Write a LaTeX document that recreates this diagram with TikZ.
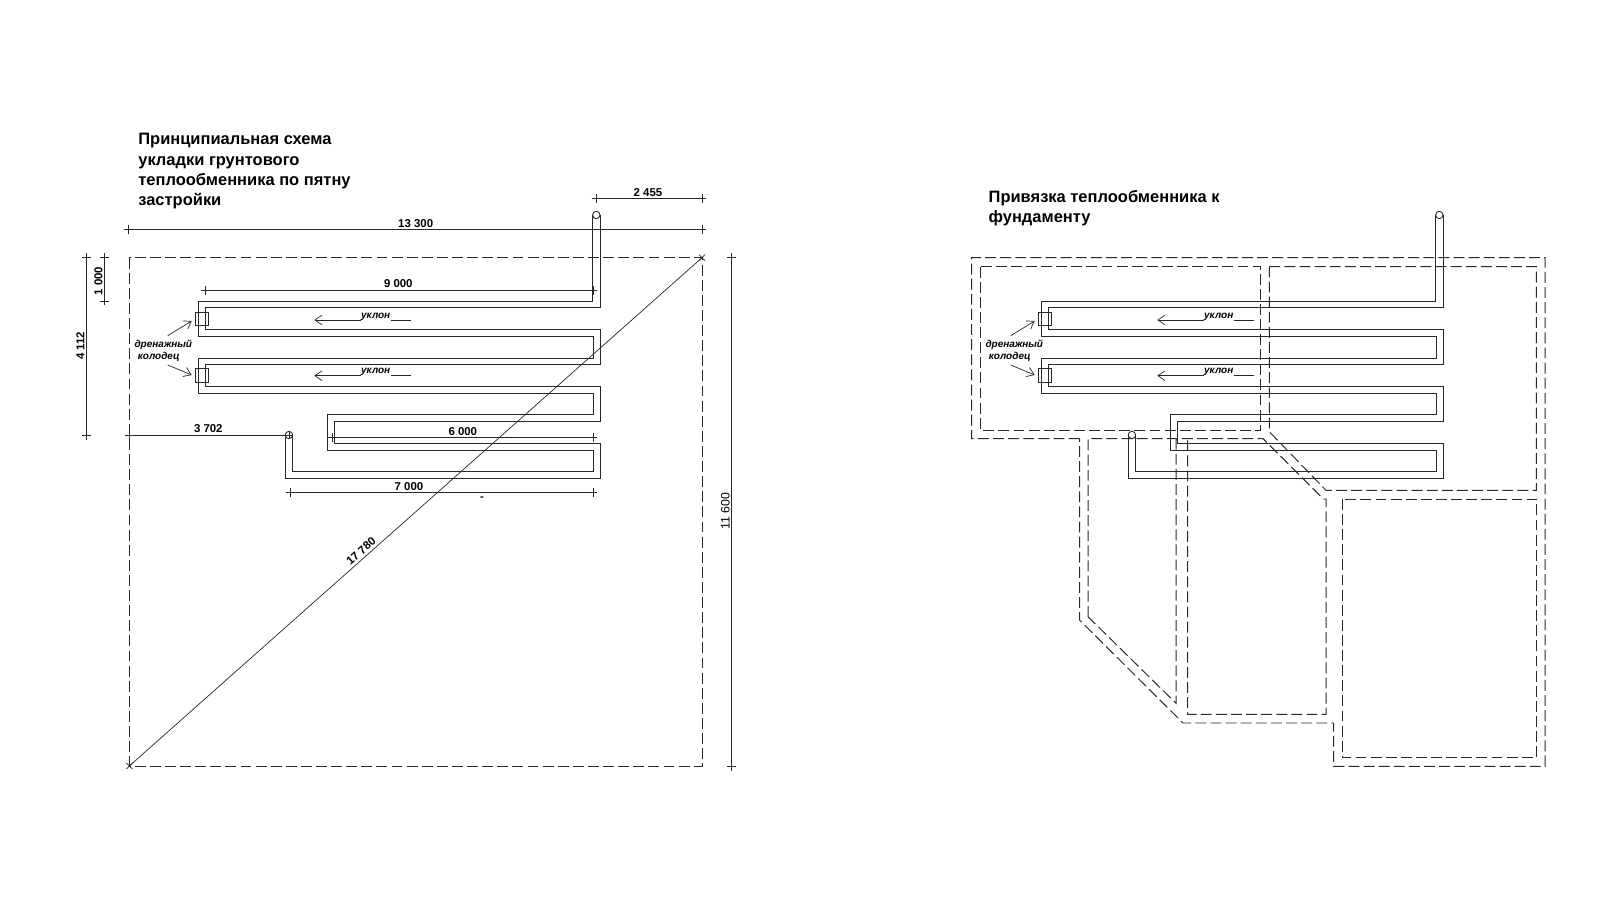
\documentclass[tikz,border=0pt]{standalone}
\usepackage{fontspec}
\setmainfont{Liberation Sans}
\usetikzlibrary{shapes.misc, arrows.meta}
\definecolor{inkdark}{RGB}{40, 40, 40}
\tikzset{
  titletext/.style={align=left, anchor=north west, inner sep=0pt, font=\fontsize{9.38}{11.6}\selectfont\bfseries, text=black},
  dimtext/.style={inner sep=0pt, font=\fontsize{6.5}{7}\selectfont\bfseries, text=black},
  welltext/.style={inner sep=0pt, font=\fontsize{5.7}{7}\selectfont\bfseries\itshape, text=black},
  endtick/.style={draw=inkdark, cross out, rotate=45, minimum size=0.125cm, inner sep=0pt, outer sep=0pt, line width=0.35pt},
  cornertick/.style={draw=inkdark, cross out, minimum size=0.12cm, inner sep=0pt, outer sep=0pt, line width=0.4pt},
  dimline/.style={draw=inkdark, line width=0.55pt},
  thinline/.style={draw=inkdark, line width=0.4pt},
  pipeline/.style={draw=inkdark, line width=0.52pt},
  wallline/.style={draw=inkdark, line width=0.55pt, dash pattern=on 6.2pt off 2.4pt},
  hole/.style={draw=inkdark, circle, minimum size=0.148cm, inner sep=0pt, outer sep=0pt, line width=0.5pt},
  wellbox/.style={draw=inkdark, rectangle, minimum size=0.274cm, inner sep=0pt, outer sep=0pt, line width=0.5pt},
  slopearrow/.style={draw=inkdark, line width=0.4pt, -{Straight Barb[length=4pt,width=5.5pt]}}
}
% heat exchanger coil: #1 prefix, #2 shift of the well label
\newcommand{\coilpipe}[2]{
  \node[hole] (#1holeA) at (596.3,215) {};
  \node[hole] (#1holeB) at (288.9,435) {};
  \draw[pipeline] (#1holeA.west) |- (198.3,301) -- (198.3,336.3) -- (593,336.3) -- (593,358) -- (198.3,358)
    -- (198.3,393.3) -- (593,393.3) -- (593,414.7) -- (327.5,414.7) -- (327.5,450) -- (593,450) -- (593,471.7) -| (#1holeB.east);
  \draw[pipeline] (#1holeA.east) |- (205,307.7) -- (205,329.3) -- (600,329.3) -- (600,364.7) -- (205,364.7)
    -- (205,386.3) -- (600,386.3) -- (600,421.7) -- (334,421.7) -- (334,443.3) -- (600,443.3) -- (600,478.3) -| (#1holeB.west);
  % wells
  \node[wellbox] (#1wellA) at (201.8,318.8) {};
  \node[wellbox] (#1wellB) at (201.8,375.3) {};
  \node[welltext] (#1drainA) at (163.3+#2,344.7) {дренажный};
  \node[welltext] (#1drainB) at (158.7+#2,357.3) {колодец};
  \coordinate (#1tailA) at (167.7,335.7);
  \coordinate (#1tipA) at (191.7,321);
  \coordinate (#1tailB) at (167.7,365);
  \coordinate (#1tipB) at (191.7,375);
  \draw[slopearrow] (#1tailA) -- (#1tipA);
  \draw[slopearrow] (#1tailB) -- (#1tipB);
  % slope marks
  \node[welltext] (#1slopeA) at (375.7,316.5) {уклон};
  \node[welltext] (#1slopeB) at (375.7,371.5) {уклон};
  \coordinate (#1headA) at (314.3,320);
  \coordinate (#1headB) at (314.3,375.7);
  \draw[slopearrow] (#1slopeA.west |- #1headA) -- (#1headA);
  \draw[slopearrow] (#1slopeB.west |- #1headB) -- (#1headB);
  \draw[thinline] (390.7,320) -- (410.7,320);
  \draw[thinline] (390.7,375.7) -- (410.7,375.7);
}
\begin{document}
\begin{tikzpicture}[x=0.02cm, y=-0.02cm]
  \useasboundingbox (0,0) rectangle (1618,898);

  % Left plan
  \node[titletext] (titleleft) at (138,133) {Принципиальная схема\\укладки грунтового\\теплообменника по пятну\\застройки};
  \draw[wallline] (129.3,257.7) rectangle (702,766);
  \coilpipe{l}{0}

  % Horizontal dimensions
  \node[endtick] (dAa) at (596,198.3) {};
  \node[endtick] (dAb) at (702,198.3) {};
  \draw[dimline] (dAa.center) -- (dAb.center);
  \node[dimtext] (dAt) at (648,192.5) {2 455};
  \node[endtick] (dBa) at (128.3,229.8) {};
  \node[endtick] (dBb) at (702,229.8) {};
  \draw[dimline] (dBa.center) -- (dBb.center);
  \node[dimtext] (dBt) at (415.7,223.5) {13 300};
  \node[endtick] (dCa) at (205,290.7) {};
  \node[endtick] (dCb) at (593,290.7) {};
  \draw[dimline] (dCa.center) -- (dCb.center);
  \node[dimtext] (dCt) at (398.3,284) {9 000};
  \node[endtick] (dDa) at (129.3,435) {};
  \node[endtick] (dDb) at (288.9,435) {};
  \draw[dimline] (dDa.center) -- (dDb.center);
  \node[dimtext] (dDt) at (208.3,429) {3 702};
  \node[endtick] (dEa) at (332.4,437.7) {};
  \node[endtick] (dEb) at (593,437.7) {};
  \draw[dimline] (dEa.center) -- (dEb.center);
  \node[dimtext] (dEt) at (462.8,431.5) {6 000};
  \node[endtick] (dFa) at (290.8,492.3) {};
  \node[endtick] (dFb) at (593,492.3) {};
  \draw[dimline] (dFa.center) -- (dFb.center);
  \node[dimtext] (dFt) at (409,486.5) {7 000};
  \node[dimtext] (dFm) at (482,498.5) {-};

  % Vertical dimensions
  \node[endtick] (dGa) at (104.3,257.7) {};
  \node[endtick] (dGb) at (104.3,301) {};
  \draw[dimline] (dGa.center) -- (dGb.center);
  \node[dimtext, rotate=90] (dGt) at (98.5,281) {1 000};
  \node[endtick] (dHa) at (86.7,257.7) {};
  \node[endtick] (dHb) at (86.7,435.5) {};
  \draw[dimline] (dHa.center) -- (dHb.center);
  \node[dimtext, rotate=90] (dHt) at (80.5,345.7) {4 112};
  \node[endtick] (dIa) at (731.7,257.7) {};
  \node[endtick] (dIb) at (731.7,766.5) {};
  \draw[dimline] (dIa.center) -- (dIb.center);
  \node[dimtext, rotate=90, font=\fontsize{7}{8}\selectfont] (dIt) at (725.5,511) {11 600};

  % Diagonal
  \node[cornertick] (dJa) at (702,257.7) {};
  \node[cornertick] (dJb) at (129.3,766) {};
  \draw[thinline] (dJa.center) -- (dJb.center);
  \node[dimtext, rotate=41.6] (dJt) at (361,551) {17 780};

  % Right plan
  \node[titletext] (titleright) at (988.3,190) {Привязка теплообменника к\\фундаменту};
  \draw[wallline] (1079.5,438.7) -- (971.7,438.7) -- (971.7,257.7) -- (1545,257.7) -- (1545,766.3) -- (1333.7,766.3)
    -- (1333.7,723) -- (1183,723) -- (1079.5,620) -- cycle;
  \draw[wallline] (980.7,266.7) rectangle (1260.7,430.3);
  \draw[wallline] (1269.3,266.7) -- (1536.3,266.7) -- (1536.3,490.3) -- (1326,490.3) -- (1269.3,431.7) -- cycle;
  \draw[wallline] (1342.3,499) rectangle (1536.3,757.7);
  \draw[wallline] (1088,616.7) -- (1088,438.7) -- (1263,438.7) -- (1323.3,499) -- (1326,499) -- (1326,714.3) -- (1187.7,714.3) -- (1187.7,438.7);
  \draw[wallline] (1176,438.7) -- (1176,703.3) -- (1088,616.7);
  \begin{scope}[shift={(843,0)}]
    \coilpipe{r}{8}
  \end{scope}
\end{tikzpicture}
\end{document}
